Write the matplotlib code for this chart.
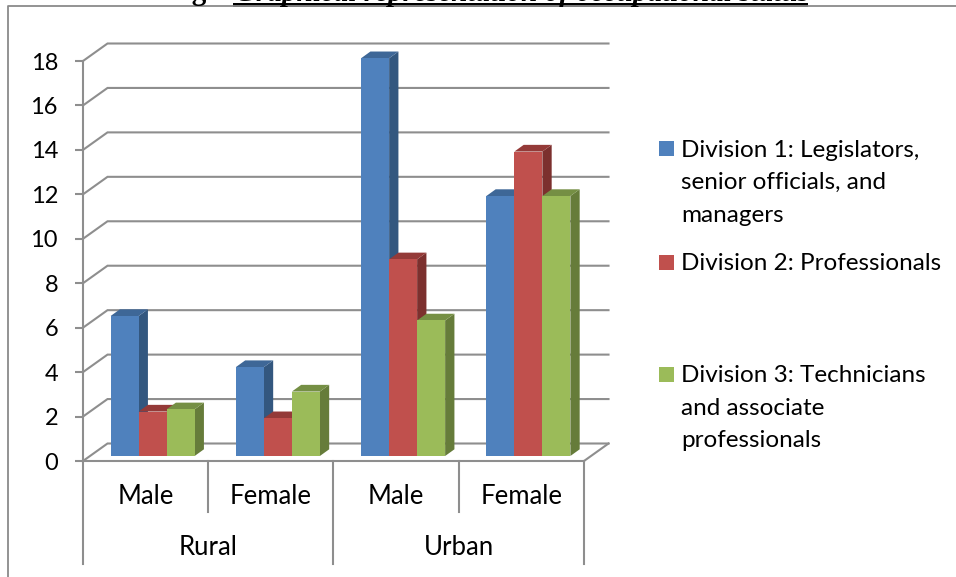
import matplotlib
matplotlib.use("Agg")
import matplotlib.pyplot as plt
from matplotlib.patches import Polygon, Rectangle

# Chart values
genders = ["Male", "Female", "Male", "Female"]
areas = ["Rural", "Urban"]
division_1 = [6.3, 4.0, 17.9, 11.7]
division_2 = [2.0, 1.7, 8.85, 13.7]
division_3 = [2.1, 2.9, 6.1, 11.7]
y_ticks = [0, 2, 4, 6, 8, 10, 12, 14, 16, 18]

legend_lines = [
    ["Division 1: Legislators,", "senior officials, and", "managers"],
    ["Division 2: Professionals"],
    ["Division 3: Technicians", "and associate", "professionals"],
]

W, H = 956, 577
DPI = 100
FONT = "Lato"
GREY = "#8e8e8e"

FACE = ["#4F81BD", "#C0504D", "#9BBB59"]
TOP = ["#3E6797", "#943A38", "#758F44"]
SIDE = ["#33577F", "#7C302E", "#667C3A"]

fig = plt.figure(figsize=(W / DPI, H / DPI), dpi=DPI, facecolor="white")


def fx(px):
    return px / W


def fy(py):
    return 1 - py / H


# Plot box: front floor runs 83..584 px, value scale runs 461..61 px
ax = fig.add_axes([fx(83), fy(461), (584 - 83) / W, (461 - 61) / H])
ax.set_xlim(0, 4)
ax.set_ylim(0, 18)
ax.patch.set_visible(False)

px_x = 4 / (584 - 83)
px_y = 18 / (461 - 61)

# Depth of the walls and floor, in data units
wall_dx = 24.5 * px_x
wall_dy = 17.5 * px_y

for v in y_ticks:
    ax.plot([0, wall_dx, 4 + wall_dx], [v, v + wall_dy, v + wall_dy],
            color=GREY, lw=1.5, clip_on=False, zorder=1, solid_joinstyle="miter")
ax.plot([4, 4 + wall_dx], [0, wall_dy], color=GREY, lw=1.5, clip_on=False, zorder=1)

for s in ["top", "right"]:
    ax.spines[s].set_visible(False)
for s in ["left", "bottom"]:
    ax.spines[s].set_color(GREY)
    ax.spines[s].set_linewidth(1.5)
    ax.spines[s].set_zorder(2)

ax.set_yticks(y_ticks)
ax.set_xticks([])
ax.tick_params(axis="y", length=8 * 72 / DPI, width=1.5, color=GREY, pad=17 * 72 / DPI,
               labelsize=17, labelcolor="black")
for lab in ax.get_yticklabels():
    lab.set_fontfamily(FONT)

# Columns with a shallow extruded top and right side
bar_w = 28 * px_x
depth_x = 9.3 * px_x
depth_y = 6.7 * px_y
base_y = 5 * px_y
gap_x = 7 * px_x

series = [division_1, division_2, division_3]
for cat in range(len(genders)):
    left = cat + 0.5 - 1.5 * bar_w + gap_x
    for k, values in enumerate(series):
        x0 = left + k * bar_w
        x1 = x0 + bar_w
        top = base_y + values[cat]
        ax.bar(x0, values[cat], width=bar_w, bottom=base_y, align="edge",
               color=FACE[k], linewidth=0, zorder=3 + k * 0.1, clip_on=False)
        ax.add_patch(Polygon([(x1, base_y), (x1 + depth_x, base_y + depth_y),
                              (x1 + depth_x, top + depth_y), (x1, top)],
                             facecolor=SIDE[k], linewidth=0, zorder=3 + k * 0.1 - 0.01,
                             clip_on=False))
        ax.add_patch(Polygon([(x0, top), (x0 + depth_x, top + depth_y),
                              (x1 + depth_x, top + depth_y), (x1, top)],
                             facecolor=TOP[k], linewidth=0, zorder=3 + k * 0.1 - 0.01,
                             clip_on=False))

# Two-level category axis below the floor
blend = ax.get_xaxis_transform()
for x, bottom_px in zip([0, 1, 2, 3, 4], [564, 512, 564, 512, 564]):
    ax.plot([x, x], [0, -(bottom_px - 461) / 400], transform=blend, color=GREY,
            lw=1.5, clip_on=False, zorder=2)
for i, name in enumerate(genders):
    ax.text(i + 0.5, -(496.5 - 461) / 400, name, transform=blend, ha="center", va="center",
            fontsize=18.5, family=FONT, color="black")
for i, name in enumerate(areas):
    ax.text(2 * i + 1, -(547.5 - 461) / 400, name, transform=blend, ha="center", va="center",
            fontsize=18.5, family=FONT, color="black")

# Legend
line_centres = [[149, 181, 214], [262], [374, 407, 439]]
for k, (lines, ys) in enumerate(zip(legend_lines, line_centres)):
    fig.add_artist(Rectangle((fx(659), fy(ys[0] + 7.5)), 15 / W, 15 / H,
                             transform=fig.transFigure, facecolor=FACE[k], linewidth=0))
    for text, y in zip(lines, ys):
        fig.text(fx(681), fy(y + 1.5), text, ha="left", va="center", fontsize=17.5,
                 family=FONT, color="black")

# Outer frame, left and top sides only
fig.add_artist(plt.Line2D([fx(8), fx(8), fx(956)], [fy(577), fy(6), fy(6)],
                          transform=fig.transFigure, color="#8a8a8a", lw=1.3))

# Caption running off the top edge, with its heavy underline
fig.text(fx(207), fy(0), "Fig", ha="right", va="baseline", fontsize=21, weight="bold",
         family="Liberation Serif", color="black")
fig.text(fx(235), fy(1), "Graphical representation of occupational status", ha="left",
         va="baseline", fontsize=21, weight="bold", style="italic",
         family="Liberation Serif", color="black")
fig.add_artist(Rectangle((fx(233), fy(6.5)), (808 - 233) / W, 3.5 / H,
                         transform=fig.transFigure, facecolor="black", linewidth=0))

fig.savefig("out.png", dpi=DPI, facecolor="white")
